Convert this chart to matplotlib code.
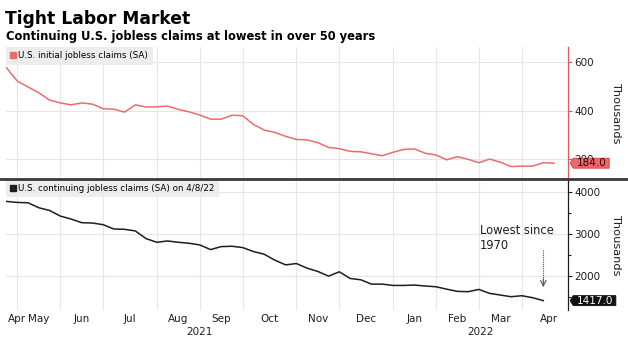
import matplotlib
matplotlib.use("Agg")
import matplotlib.pyplot as plt
import numpy as np
import pandas as pd
from matplotlib.lines import Line2D
from matplotlib.path import Path
from matplotlib.ticker import MultipleLocator

# Weekly readings in thousands, first week dated Friday 2021-04-30
week_start = "2021-04-30"
initial_claims = [
    578, 523, 499, 475, 445, 433, 425, 433, 428, 409, 407, 395, 425, 416,
    417, 420, 406, 396, 383, 366, 366, 382, 380, 344, 321, 311, 295, 282,
    280, 269, 249, 244, 233, 231, 223, 215, 229, 241, 243, 225, 218, 198,
    211, 200, 186, 201, 188, 170, 172, 172, 186, 184,
]
continuing_claims = [
    3778, 3754, 3746, 3628, 3564, 3430, 3359, 3272, 3264, 3225, 3122, 3114,
    3075, 2893, 2806, 2837, 2806, 2782, 2743, 2632, 2703, 2711, 2680, 2585,
    2521, 2379, 2268, 2300, 2190, 2111, 2000, 2103, 1945, 1913, 1810, 1810,
    1779, 1779, 1787, 1765, 1747, 1690, 1637, 1630, 1684, 1590, 1550, 1510,
    1534, 1487, 1417,
]
initial_ticks = [200, 400, 600]
continuing_ticks = [2000, 3000, 4000]

title = "Tight Labor Market"
subtitle = "Continuing U.S. jobless claims at lowest in over 50 years"
initial_label = "U.S. initial jobless claims (SA)"
continuing_label = "U.S. continuing jobless claims (SA) on 4/8/22"
note = "Lowest since\n1970"
unit = "Thousands"

RED = "#e96d6f"
RED_SPINE = "#e25a5c"
INK = "#1e1e1e"
GRID = "#e6e6e6"

plt.rcParams["font.family"] = ["DejaVu Sans"]

W, H = 628, 339
fig = plt.figure(figsize=(W / 100, H / 100), dpi=100)
fig.patch.set_facecolor("white")

ax1 = fig.add_axes([6 / W, 1 - 178.3 / H, 562 / W, (178.3 - 47) / H])
ax2 = fig.add_axes([6 / W, 1 - 310 / H, 562 / W, (310 - 179.5) / H])

dates = pd.date_range(week_start, periods=len(initial_claims), freq="W-FRI")
x_init = np.arange(len(initial_claims))
x_cont = np.arange(len(continuing_claims))
xlim = (-0.05, 52.3)

# month boundaries on the weekly index: first Friday of every month
ext = pd.date_range(dates[0] - pd.Timedelta(weeks=8),
                    dates[-1] + pd.Timedelta(weeks=8), freq="W-FRI")
ext_pos = (ext - dates[0]).days / 7
firsts = {}
for per, pos in zip(ext.to_period("M"), ext_pos):
    firsts.setdefault(per, pos)
months = sorted(firsts)
grid_x = [firsts[m] for m in months if 0 < firsts[m] < xlim[1]]
visible = [m for m in months
           if dates[0].to_period("M") <= m <= dates[-1].to_period("M")]
centres = []
for m in visible:
    nxt = months[months.index(m) + 1]
    centres.append(max((firsts[m] + firsts[nxt]) / 2, xlim[0] + 1.0))
month_names = [m.strftime("%b") for m in visible]


def tag_box(x0, y0, width, height, mutation_size):
    pad = 0.3 * mutation_size
    x0, x1 = x0 - pad, x0 + width + pad
    y0, y1 = y0, y0 + height
    tip = (y1 - y0) * 0.3
    ym = (y0 + y1) / 2
    return Path([(x0, y0), (x1, y0), (x1, y1), (x0, y1), (x0 - tip, ym),
                 (x0, y0)], closed=True)


def style_panel(ax, spine_color):
    ax.set_xlim(*xlim)
    for side in ("left", "top", "bottom"):
        ax.spines[side].set_visible(False)
    ax.spines["right"].set_color(spine_color)
    ax.spines["right"].set_linewidth(0.9)
    ax.yaxis.tick_right()
    ax.tick_params(axis="y", which="both", direction="out", length=3,
                   width=0.8, pad=1.5, labelsize=7.5, color=spine_color,
                   labelcolor=INK)
    ax.tick_params(axis="y", which="minor", length=2)
    ax.set_xticks(grid_x)
    ax.set_xticklabels([])
    ax.tick_params(axis="x", which="both", length=0)
    ax.grid(axis="both", which="major", color=GRID, lw=0.8)
    ax.set_axisbelow(True)
    ax.text(1.085, 0.5, unit, rotation=270, ha="center", va="center",
            fontsize=8.2, color=INK, transform=ax.transAxes)


# initial claims panel
style_panel(ax1, RED_SPINE)
ax1.set_ylim(121.6, 664)
ax1.set_yticks(initial_ticks)
ax1.plot(x_init, initial_claims, color=RED, lw=1.1, zorder=3)
ax1.legend(handles=[Line2D([], [], marker="s", ls="none", color=RED,
                           markersize=4.5)],
           labels=[initial_label], loc="upper left", bbox_to_anchor=(0, 1),
           borderaxespad=0, fancybox=False, fontsize=6.3, handlelength=0.6,
           handletextpad=0.3, borderpad=0.5, facecolor="#ececec",
           edgecolor="none", framealpha=0.9)
ax1.annotate(f"{initial_claims[-1]:.1f}", xy=(1, initial_claims[-1]),
             xycoords=ax1.get_yaxis_transform(), xytext=(6, 0),
             textcoords="offset points", ha="left", va="center",
             fontsize=7.5, color="#2a0505", annotation_clip=False, zorder=10,
             bbox=dict(boxstyle=tag_box, fc="#f06668", ec="#c84446", lw=0.6))

# continuing claims panel
style_panel(ax2, INK)
ax2.set_ylim(1194, 4300)
ax2.set_yticks(continuing_ticks)
ax2.yaxis.set_minor_locator(MultipleLocator(500))
ax2.plot(x_cont, continuing_claims, color=INK, lw=1.1, zorder=3)
ax2.legend(handles=[Line2D([], [], marker="s", ls="none", color=INK,
                           markersize=4.5)],
           labels=[continuing_label], loc="upper left",
           bbox_to_anchor=(0, 1), borderaxespad=0, fancybox=False,
           fontsize=6.3, handlelength=0.6, handletextpad=0.3, borderpad=0.5,
           facecolor="#ececec", edgecolor="none", framealpha=0.9)
ax2.annotate(f"{continuing_claims[-1]:.1f}", xy=(1, continuing_claims[-1]),
             xycoords=ax2.get_yaxis_transform(), xytext=(6, 0),
             textcoords="offset points", ha="left", va="center",
             fontsize=7.5, color="white", annotation_clip=False, zorder=10,
             bbox=dict(boxstyle=tag_box, fc="#111111", ec="#111111", lw=0.6))

ax2.set_xticks(centres, labels=month_names, minor=True)
ax2.tick_params(axis="x", which="minor", labelsize=7.5, pad=3,
                labelcolor=INK)

# year captions under the month labels
year_split = firsts[pd.Period("2022-01", "M")]
for year, lo, hi in (("2021", xlim[0], year_split),
                     ("2022", year_split, xlim[1])):
    ax2.text((lo + hi) / 2, -0.17, year, ha="center", va="center",
             fontsize=7.5, color=INK, transform=ax2.get_xaxis_transform())

# call-out on the latest continuing claims reading
x_last = x_cont[-1]
y_last = continuing_claims[-1]
ax2.text(0.8434, 0.66, note, ha="left", va="top", fontsize=8.3, color=INK,
         linespacing=1.25, transform=ax2.transAxes)
ax2.plot([x_last, x_last], [y_last + 1200, y_last + 380], ls=(0, (1, 1)),
         color="#555555", lw=0.8)
ax2.annotate("", xy=(x_last, y_last + 320), xytext=(x_last, y_last + 520),
             arrowprops=dict(arrowstyle="->", color="#555555", lw=0.8,
                             shrinkA=0, shrinkB=0))

# dark rule between the two panels
fig.add_artist(Line2D([0, 1], [1 - 178.8 / H] * 2, transform=fig.transFigure,
                      color="#3a3a3a", lw=2.0))

fig.text(5 / W, 1 - 24 / H, title, fontsize=12.3, fontweight="bold",
         va="baseline", color="black")
fig.text(6 / W, 1 - 40 / H, subtitle, fontsize=8.3, fontweight="bold",
         va="baseline", color="black")

fig.savefig("out.png", dpi=100, facecolor="white")
